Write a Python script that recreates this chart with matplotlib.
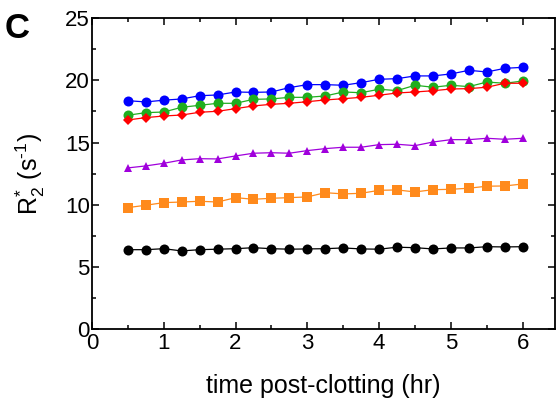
import matplotlib
matplotlib.use("Agg")
import matplotlib.pyplot as plt
from matplotlib.ticker import MultipleLocator

plt.rcParams['font.family'] = ['Liberation Sans', 'DejaVu Sans']
plt.rcParams['mathtext.fontset'] = 'custom'
plt.rcParams['mathtext.rm'] = 'Liberation Sans'
plt.rcParams['mathtext.it'] = 'Liberation Sans:italic'
plt.rcParams['mathtext.bf'] = 'Liberation Sans:bold'

# time points (hr)
t = [0.5 + 0.25*i for i in range(23)]

blue = [18.36, 18.26, 18.40, 18.50, 18.76, 18.82, 19.06, 19.03, 19.06, 19.41, 19.65, 19.65,
        19.60, 19.81, 20.08, 20.13, 20.35, 20.35, 20.51, 20.80, 20.67, 20.96, 21.04]
green = [17.19, 17.40, 17.45, 17.83, 17.99, 18.15, 18.15, 18.47, 18.50, 18.63, 18.63, 18.74,
         19.06, 19.00, 19.28, 19.17, 19.60, 19.44, 19.60, 19.49, 19.86, 19.76, 19.94]
red = [16.81, 17.00, 17.13, 17.21, 17.43, 17.51, 17.72, 17.94, 18.07, 18.15, 18.28, 18.42,
       18.52, 18.63, 18.80, 18.98, 19.06, 19.16, 19.30, 19.33, 19.44, 19.76, 19.76]
purple = [12.96, 13.12, 13.33, 13.60, 13.70, 13.68, 13.92, 14.14, 14.18, 14.14, 14.35, 14.51,
          14.62, 14.62, 14.83, 14.86, 14.75, 15.04, 15.23, 15.23, 15.34, 15.26, 15.34]
orange = [9.77, 9.96, 10.17, 10.22, 10.28, 10.22, 10.57, 10.44, 10.52, 10.57, 10.63, 10.97,
          10.87, 10.92, 11.16, 11.19, 11.03, 11.21, 11.24, 11.33, 11.49, 11.51, 11.67]
black = [6.39, 6.39, 6.47, 6.29, 6.39, 6.43, 6.47, 6.55, 6.47, 6.43, 6.45, 6.47,
         6.53, 6.45, 6.43, 6.59, 6.55, 6.45, 6.53, 6.53, 6.63, 6.61, 6.63]

fig = plt.figure(figsize=(5.57, 4.01), dpi=100)
ax = fig.add_axes([0.165, 0.179, 0.8315, 0.776])

ax.plot(t, blue, color="#0000ff", marker="o", ms=7.2, mew=0, lw=0.9)
ax.plot(t, green, color="#1fae1f", marker="o", ms=7.2, mew=0, lw=0.9)
ax.plot(t, red, color="#ff0000", marker="D", ms=5.2, mew=0, lw=0.9)
ax.plot(t, purple, color="#a000dc", marker="^", ms=6.2, mew=0, lw=0.9)
ax.plot(t, orange, color="#ff8a1c", marker="s", ms=7.6, mew=0, lw=0.9)
ax.plot(t, black, color="black", marker="o", ms=7.2, mew=0, lw=0.9)

ax.set_xlim(0, 6.45)
ax.set_ylim(0, 25)
ax.xaxis.set_major_locator(MultipleLocator(1))
ax.xaxis.set_minor_locator(MultipleLocator(0.5))
ax.yaxis.set_major_locator(MultipleLocator(5))
ax.yaxis.set_minor_locator(MultipleLocator(2.5))
ax.tick_params(which="both", direction="in", top=True, right=True, width=1.1, labelsize=16)
ax.tick_params(which="major", length=5)
ax.tick_params(which="minor", length=3)
ax.tick_params(axis="x", pad=3)
ax.tick_params(axis="y", pad=1.5)
for s in ax.spines.values():
    s.set_linewidth(1.3)

ax.set_xlabel("time post-clotting (hr)", fontsize=18, labelpad=14)
ax.set_ylabel(r"R$_2^{*}$ (s$^{\text{-1}}$)", fontsize=18, labelpad=13)

fig.text(0.008, 0.905, "C", fontsize=25, fontweight="bold")

fig.savefig("out.png", dpi=100)
